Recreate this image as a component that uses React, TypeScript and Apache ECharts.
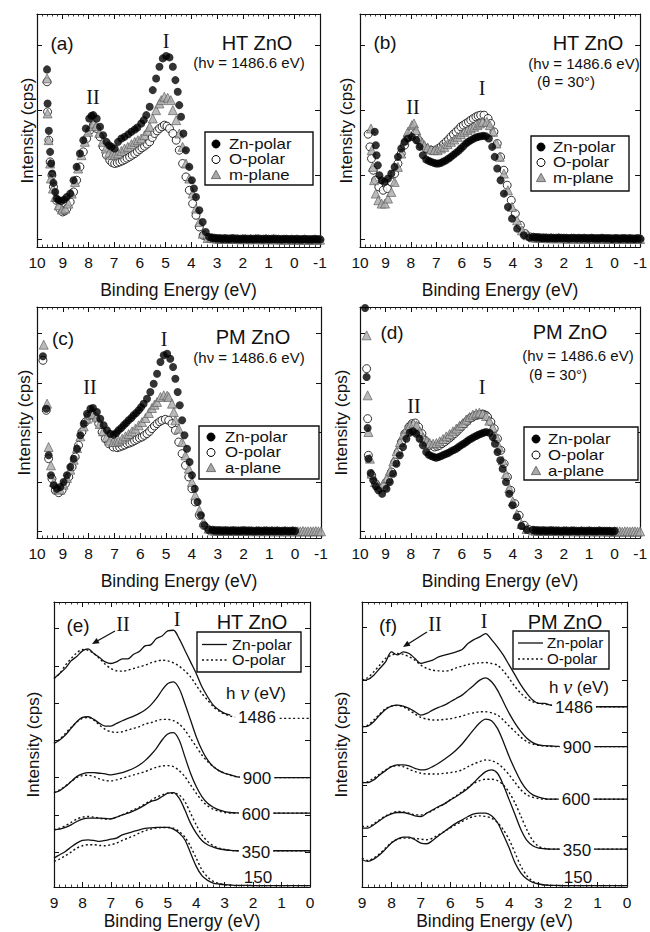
import React, { useEffect, useRef } from "react";
import * as echarts from "echarts";

const SANS = "'Liberation Sans', Arial, Helvetica, sans-serif";
const SERIF = "'Liberation Serif', 'Times New Roman', Times, serif";

// ---------- shared energy grids ----------
const energyTail = [3.2,3.1,3.0,2.9,2.8,2.7,2.6,2.5,2.4,2.3,2.2,2.1,2.0,1.9,1.8,1.7,1.6,1.5,1.4,1.3,1.2,1.1,1.0,0.9,0.8,0.7,0.6,0.5,0.4,0.3,0.2,0.1,0.0,-0.1,-0.2,-0.3,-0.4,-0.5,-0.6,-0.7,-0.8,-0.9,-1.0];
const energyLine = [9.0,8.8,8.6,8.4,8.2,8.0,7.8,7.6,7.4,7.2,7.0,6.8,6.6,6.4,6.2,6.0,5.8,5.6,5.4,5.2,5.0,4.8,4.6,4.4,4.2,4.0,3.8,3.6,3.4,3.2,3.0,2.8,2.6,2.4,2.2,2.0,1.8,1.6,1.4,1.2,1.0,0.8,0.6,0.4,0.2,0.0];

// ---------- panel (a) HT ZnO ----------
const aZn = [[9.61,5.32],[9.59,4.30],[9.54,3.48],[9.49,2.85],[9.45,2.5],[9.41,2.2],[9.36,1.92],[9.29,1.65],[9.23,1.45],[9.16,1.40],[9.05,1.38],[8.95,1.42],[8.84,1.5],[8.71,1.6],[8.58,2.0],[8.46,2.4],[8.33,2.8],[8.2,3.2],[8.1,3.55],[7.97,3.85],[7.88,3.93],[7.81,3.95],[7.68,3.85],[7.55,3.6],[7.43,3.35],[7.3,3.15],[7.2,3.05],[7.1,3.0],[6.98,2.95],[6.85,3.15],[6.72,3.25],[6.6,3.3],[6.45,3.38],[6.33,3.45],[6.2,3.52],[6.1,3.58],[5.95,3.7],[5.85,3.8],[5.75,3.95],[5.62,4.2],[5.5,4.7],[5.37,5.05],[5.24,5.4],[5.11,5.65],[4.98,5.72],[4.85,5.68],[4.72,5.4],[4.62,5.0],[4.53,4.65],[4.47,4.25],[4.4,3.9],[4.31,3.4],[4.21,2.9],[4.08,2.4],[3.98,2.0],[3.9,1.75],[3.82,1.5],[3.69,1.1],[3.56,0.75],[3.44,0.45],[3.31,0.3]];
const aO = [[9.61,4.95],[9.59,4.05],[9.54,3.2],[9.49,2.55],[9.42,2.15],[9.36,1.8],[9.25,1.4],[9.12,1.15],[9.0,1.05],[8.92,1.08],[8.84,1.15],[8.71,1.35],[8.58,1.65],[8.46,2.0],[8.33,2.4],[8.2,2.85],[8.07,3.25],[7.94,3.5],[7.81,3.65],[7.68,3.55],[7.55,3.3],[7.43,3.0],[7.3,2.75],[7.17,2.6],[7.08,2.53],[6.98,2.5],[6.88,2.52],[6.78,2.55],[6.68,2.58],[6.59,2.62],[6.5,2.66],[6.4,2.7],[6.3,2.75],[6.2,2.8],[6.1,2.86],[6.01,2.92],[5.92,2.97],[5.82,3.02],[5.72,3.08],[5.62,3.15],[5.52,3.28],[5.43,3.4],[5.33,3.48],[5.24,3.55],[5.14,3.6],[5.05,3.65],[4.95,3.62],[4.85,3.55],[4.72,3.4],[4.59,3.2],[4.47,2.9],[4.34,2.5],[4.21,2.1],[4.08,1.7],[3.95,1.3],[3.82,0.95],[3.69,0.6],[3.54,0.35],[3.37,0.28]];
const aM = [[9.61,5.05],[9.59,4.0],[9.55,3.2],[9.49,2.5],[9.46,2.05],[9.38,1.75],[9.29,1.5],[9.16,1.25],[9.03,1.12],[8.9,1.15],[8.78,1.3],[8.65,1.6],[8.52,1.95],[8.4,2.35],[8.27,2.75],[8.14,3.15],[8.01,3.45],[7.88,3.62],[7.81,3.7],[7.7,3.62],[7.58,3.42],[7.45,3.15],[7.33,2.95],[7.2,2.82],[7.08,2.76],[6.98,2.75],[6.85,2.8],[6.72,2.88],[6.6,2.95],[6.47,3.0],[6.33,3.08],[6.2,3.15],[6.08,3.2],[5.95,3.25],[5.82,3.35],[5.7,3.48],[5.62,3.6],[5.5,3.85],[5.37,4.1],[5.24,4.3],[5.17,4.4],[5.05,4.5],[4.92,4.47],[4.8,4.4],[4.72,4.1],[4.59,3.8],[4.47,3.4],[4.34,3.0],[4.21,2.5],[4.08,2.05],[3.95,1.6],[3.82,1.15],[3.69,0.75],[3.56,0.4],[3.37,0.27]];
const aTail = [0.27,0.26,0.25,0.25,0.24,0.25,0.24,0.24,0.25,0.24,0.24,0.23,0.24,0.24,0.23,0.24,0.23,0.24,0.24,0.23,0.23,0.24,0.23,0.23,0.24,0.23,0.23,0.22,0.23,0.23,0.22,0.23,0.22,0.23,0.22,0.22,0.23,0.22,0.22,0.22,0.23,0.22,0.22];

// ---------- panel (b) HT ZnO, theta = 30 ----------
const bZn = [[9.42,3.45],[9.38,3.05],[9.35,2.75],[9.3,2.45],[9.24,2.15],[9.15,2.0],[9.03,1.95],[8.9,2.05],[8.77,2.2],[8.64,2.4],[8.51,2.7],[8.38,2.95],[8.25,3.15],[8.12,3.25],[7.96,3.3],[7.79,3.2],[7.66,3.0],[7.53,2.75],[7.4,2.62],[7.3,2.58],[7.21,2.55],[7.1,2.52],[7.01,2.5],[6.92,2.5],[6.82,2.52],[6.72,2.56],[6.62,2.6],[6.52,2.65],[6.43,2.7],[6.33,2.76],[6.23,2.82],[6.13,2.88],[6.04,2.95],[5.94,3.02],[5.84,3.1],[5.75,3.15],[5.65,3.2],[5.55,3.24],[5.45,3.28],[5.36,3.3],[5.26,3.32],[5.16,3.33],[5.06,3.32],[4.94,3.25],[4.81,3.0],[4.71,2.7],[4.61,2.35],[4.48,2.0],[4.35,1.6],[4.19,1.2],[4.03,0.85],[3.83,0.55],[3.57,0.35],[3.35,0.28]];
const bO = [[9.68,3.38],[9.61,3.0],[9.55,2.65],[9.48,2.3],[9.39,2.0],[9.26,1.8],[9.09,1.7],[8.92,1.75],[8.77,1.95],[8.64,2.2],[8.51,2.5],[8.38,2.8],[8.25,3.05],[8.12,3.3],[7.96,3.45],[7.83,3.4],[7.7,3.2],[7.57,3.05],[7.4,2.95],[7.21,2.9],[7.01,2.9],[6.92,2.95],[6.82,3.0],[6.72,3.08],[6.62,3.15],[6.52,3.22],[6.43,3.3],[6.33,3.38],[6.23,3.45],[6.13,3.52],[6.04,3.6],[5.94,3.65],[5.84,3.7],[5.74,3.75],[5.65,3.8],[5.55,3.85],[5.45,3.9],[5.36,3.93],[5.26,3.95],[5.13,3.95],[4.97,3.85],[4.87,3.7],[4.74,3.45],[4.61,3.1],[4.48,2.7],[4.35,2.3],[4.22,1.85],[4.06,1.4],[3.9,1.0],[3.7,0.65],[3.51,0.4],[3.31,0.3]];
const bM = [[9.57,3.55],[9.54,2.9],[9.5,2.4],[9.45,2.0],[9.38,1.6],[9.28,1.4],[9.15,1.3],[9.02,1.3],[8.9,1.45],[8.77,1.65],[8.64,1.95],[8.51,2.4],[8.38,2.8],[8.25,3.2],[8.12,3.45],[7.96,3.65],[7.88,3.7],[7.79,3.5],[7.66,3.25],[7.55,3.12],[7.47,3.05],[7.34,2.98],[7.21,2.92],[7.08,2.9],[6.95,2.9],[6.82,2.95],[6.69,3.0],[6.56,3.08],[6.43,3.15],[6.3,3.22],[6.17,3.3],[6.04,3.38],[5.91,3.45],[5.78,3.5],[5.65,3.55],[5.52,3.6],[5.39,3.65],[5.29,3.7],[5.19,3.75],[5.02,3.75],[4.9,3.65],[4.77,3.45],[4.64,3.1],[4.51,2.7],[4.35,2.2],[4.19,1.7],[4.03,1.2],[3.83,0.8],[3.64,0.5],[3.42,0.35]];
const bTail = [0.29,0.28,0.28,0.27,0.27,0.27,0.26,0.27,0.26,0.26,0.27,0.26,0.26,0.26,0.25,0.26,0.26,0.25,0.26,0.25,0.26,0.25,0.25,0.26,0.25,0.25,0.25,0.26,0.25,0.25,0.25,0.24,0.25,0.25,0.24,0.25,0.25,0.24,0.25,0.24,0.24,0.25,0.24];

// ---------- panel (c) PM ZnO ----------
const cZn = [[9.77,5.45],[9.64,3.88],[9.55,2.48],[9.46,1.88],[9.35,1.58],[9.23,1.48],[9.1,1.53],[8.97,1.68],[8.84,1.88],[8.71,2.13],[8.58,2.38],[8.45,2.68],[8.32,3.08],[8.19,3.43],[8.06,3.73],[7.93,3.88],[7.83,3.9],[7.68,3.78],[7.55,3.58],[7.42,3.38],[7.29,3.23],[7.16,3.13],[7.03,3.1],[6.93,3.15],[6.84,3.23],[6.74,3.3],[6.64,3.38],[6.55,3.45],[6.45,3.53],[6.35,3.6],[6.26,3.68],[6.16,3.75],[6.06,3.83],[5.97,3.92],[5.87,4.03],[5.74,4.18],[5.61,4.38],[5.48,4.63],[5.35,4.93],[5.22,5.28],[5.09,5.48],[4.96,5.53],[4.84,5.38],[4.73,5.13],[4.64,4.78],[4.55,4.38],[4.47,3.98],[4.38,3.53],[4.29,3.08],[4.19,2.68],[4.09,2.28],[4.0,1.88],[3.89,1.48],[3.78,1.08],[3.65,0.68],[3.52,0.38],[3.35,0.25]];
const cO = [[9.77,5.33],[9.64,3.83],[9.55,2.38],[9.42,1.78],[9.29,1.43],[9.16,1.36],[9.03,1.43],[8.9,1.63],[8.77,1.83],[8.64,2.13],[8.52,2.43],[8.39,2.78],[8.26,3.18],[8.13,3.48],[8.0,3.66],[7.87,3.71],[7.74,3.63],[7.61,3.43],[7.48,3.18],[7.35,2.98],[7.22,2.83],[7.05,2.73],[6.9,2.71],[6.8,2.73],[6.7,2.76],[6.6,2.79],[6.51,2.83],[6.41,2.85],[6.32,2.88],[6.22,2.92],[6.13,2.96],[6.03,3.0],[5.93,3.03],[5.84,3.08],[5.74,3.13],[5.64,3.2],[5.55,3.28],[5.45,3.36],[5.35,3.43],[5.25,3.49],[5.16,3.53],[5.03,3.56],[4.9,3.53],[4.77,3.43],[4.64,3.23],[4.51,2.88],[4.38,2.53],[4.25,2.18],[4.12,1.83],[4.0,1.48],[3.87,1.08],[3.71,0.68],[3.55,0.38],[3.35,0.25]];
const cA = [[9.74,5.8],[9.61,4.03],[9.55,2.73],[9.46,2.18],[9.35,1.68],[9.23,1.48],[9.1,1.45],[8.97,1.6],[8.84,1.8],[8.71,2.05],[8.58,2.35],[8.45,2.7],[8.32,3.05],[8.19,3.35],[8.06,3.58],[7.93,3.7],[7.83,3.72],[7.7,3.62],[7.57,3.42],[7.44,3.2],[7.31,3.02],[7.18,2.92],[7.05,2.88],[6.95,2.88],[6.84,2.92],[6.7,2.98],[6.57,3.05],[6.45,3.12],[6.32,3.2],[6.19,3.28],[6.06,3.38],[5.93,3.48],[5.8,3.6],[5.67,3.75],[5.55,3.9],[5.45,4.0],[5.35,4.08],[5.22,4.23],[5.09,4.28],[4.96,4.27],[4.9,4.23],[4.77,4.03],[4.7,3.78],[4.64,3.53],[4.51,3.28],[4.38,2.88],[4.25,2.48],[4.12,2.08],[4.0,1.68],[3.87,1.28],[3.71,0.83],[3.55,0.48],[3.35,0.28]];
const cTail = [0.23,0.22,0.22,0.22,0.21,0.22,0.21,0.21,0.22,0.21,0.21,0.21,0.22,0.21,0.21,0.21,0.2,0.21,0.21,0.2,0.21,0.21,0.2,0.21,0.2,0.21,0.2,0.2,0.21,0.2,0.2,0.21,0.2,0.2,0.2,0.21,0.2,0.2,0.2,0.2,0.21,0.2,0.2];

// ---------- panel (d) PM ZnO, theta = 30 ----------
const dZn = [[9.8,6.9],[9.74,4.83],[9.7,3.3],[9.67,2.38],[9.58,1.95],[9.48,1.73],[9.38,1.55],[9.28,1.43],[9.13,1.33],[8.96,1.48],[8.83,1.68],[8.7,1.93],[8.57,2.23],[8.44,2.48],[8.31,2.73],[8.18,2.98],[8.05,3.16],[7.92,3.2],[7.79,3.13],[7.66,2.98],[7.53,2.78],[7.4,2.58],[7.3,2.5],[7.2,2.46],[7.1,2.43],[7.01,2.41],[6.91,2.43],[6.81,2.46],[6.71,2.5],[6.61,2.53],[6.52,2.56],[6.42,2.6],[6.32,2.64],[6.22,2.68],[6.13,2.73],[6.03,2.78],[5.93,2.83],[5.83,2.88],[5.74,2.93],[5.64,2.98],[5.54,3.02],[5.44,3.06],[5.35,3.1],[5.25,3.13],[5.15,3.16],[5.05,3.18],[4.92,3.16],[4.79,3.03],[4.7,2.83],[4.6,2.58],[4.49,2.33],[4.4,2.08],[4.27,1.68],[4.14,1.33],[4.01,0.98],[3.84,0.63],[3.66,0.36],[3.45,0.25]];
const dO = [[9.74,5.08],[9.7,3.58],[9.67,2.48],[9.54,1.88],[9.39,1.63],[9.22,1.5],[9.05,1.53],[8.89,1.73],[8.76,1.98],[8.63,2.28],[8.5,2.58],[8.37,2.88],[8.24,3.13],[8.08,3.33],[7.96,3.43],[7.83,3.45],[7.7,3.33],[7.57,3.13],[7.44,2.93],[7.27,2.78],[7.07,2.73],[6.97,2.75],[6.88,2.78],[6.78,2.83],[6.68,2.88],[6.58,2.94],[6.48,3.0],[6.39,3.06],[6.29,3.13],[6.19,3.2],[6.09,3.28],[6.0,3.35],[5.9,3.43],[5.8,3.5],[5.7,3.58],[5.6,3.62],[5.51,3.66],[5.41,3.68],[5.31,3.7],[5.22,3.71],[5.14,3.71],[5.05,3.68],[4.99,3.63],[4.86,3.48],[4.73,3.28],[4.6,2.98],[4.47,2.63],[4.34,2.23],[4.21,1.83],[4.08,1.43],[3.92,1.03],[3.75,0.68],[3.55,0.38],[3.36,0.25]];
const dA = [[9.74,6.08],[9.7,4.28],[9.67,3.18],[9.61,2.38],[9.54,1.93],[9.41,1.68],[9.28,1.58],[9.09,1.63],[8.95,1.8],[8.82,2.02],[8.69,2.3],[8.56,2.6],[8.43,2.88],[8.3,3.1],[8.17,3.28],[8.04,3.38],[7.9,3.43],[7.78,3.38],[7.65,3.2],[7.52,3.02],[7.39,2.9],[7.26,2.85],[7.13,2.83],[7.0,2.85],[6.87,2.9],[6.74,2.97],[6.61,3.05],[6.48,3.12],[6.35,3.2],[6.22,3.28],[6.09,3.37],[5.96,3.45],[5.83,3.55],[5.7,3.63],[5.57,3.7],[5.44,3.74],[5.31,3.76],[5.18,3.73],[5.05,3.66],[4.92,3.52],[4.79,3.32],[4.66,3.05],[4.53,2.72],[4.4,2.33],[4.27,1.92],[4.14,1.5],[4.0,1.1],[3.84,0.72],[3.66,0.42],[3.46,0.27]];
const dTail = [0.23,0.22,0.22,0.21,0.22,0.21,0.21,0.22,0.21,0.21,0.21,0.2,0.21,0.21,0.2,0.21,0.21,0.2,0.2,0.21,0.2,0.2,0.21,0.2,0.2,0.2,0.21,0.2,0.2,0.2,0.2,0.19,0.2,0.2,0.2,0.19,0.2,0.2,0.19,0.2,0.2,0.19,0.2];

// ---------- panel (e) HT ZnO, photon-energy series ----------
const eZn1486 = [6.27,6.42,6.58,6.8,6.93,7.1,7.16,7.02,6.9,6.77,6.72,6.77,6.86,6.86,7.0,7.08,7.25,7.28,7.47,7.55,7.7,7.72,7.47,7.12,6.77,6.42,6.02,5.72,5.47,5.32,5.22,5.17];
const eO1486 = [6.27,6.42,6.67,6.87,7.04,7.14,7.12,7.02,6.87,6.7,6.57,6.5,6.49,6.52,6.57,6.62,6.67,6.74,6.79,6.82,6.8,6.74,6.64,6.5,6.32,6.07,5.82,5.62,5.42,5.29,5.2,5.14,5.11,5.09,5.08,5.07,5.07,5.07,5.07,5.07,5.07,5.07,5.07,5.07,5.07,5.07];
const eZn900 = [4.32,4.42,4.57,4.77,4.97,5.1,5.12,5.04,4.92,4.84,4.84,4.92,5.0,5.07,5.14,5.22,5.32,5.47,5.67,5.92,6.12,6.17,5.97,5.52,5.02,4.52,4.12,3.82,3.62,3.5,3.42,3.37,3.32,3.3,3.3,3.29,3.29,3.29,3.29,3.29,3.29,3.29,3.29,3.29,3.29,3.29];
const eO900 = [4.32,4.44,4.62,4.8,4.96,5.07,5.1,5.02,4.87,4.74,4.67,4.65,4.67,4.72,4.77,4.82,4.9,4.94,5.0,5.04,5.04,5.0,4.9,4.72,4.47,4.22,3.97,3.77,3.62,3.5,3.42,3.36,3.32,3.3,3.3,3.29,3.29,3.29,3.29,3.29,3.29,3.29,3.29,3.29,3.29,3.29];
const eZn600 = [2.84,2.9,3.02,3.17,3.32,3.4,3.44,3.44,3.42,3.4,3.37,3.4,3.44,3.5,3.57,3.67,3.8,3.97,4.17,4.42,4.6,4.64,4.42,3.92,3.42,3.02,2.72,2.52,2.4,2.32,2.27,2.24,2.23,2.22,2.22,2.22,2.22,2.22,2.22,2.22,2.22,2.22,2.22,2.22,2.22,2.22];
const eO600 = [2.84,2.92,3.04,3.17,3.29,3.35,3.36,3.32,3.25,3.2,3.19,3.22,3.27,3.32,3.37,3.42,3.47,3.54,3.6,3.64,3.65,3.62,3.5,3.32,3.07,2.82,2.6,2.44,2.34,2.28,2.24,2.22,2.22,2.22,2.22,2.22,2.22,2.22,2.22,2.22,2.22,2.22,2.22,2.22,2.22,2.22];
const eZn350 = [1.72,1.74,1.79,1.87,1.97,2.04,2.07,2.07,2.07,2.06,2.05,2.1,2.17,2.22,2.29,2.37,2.47,2.57,2.62,2.72,2.82,2.84,2.67,2.32,1.92,1.62,1.4,1.27,1.2,1.15,1.12,1.1,1.09,1.09,1.09,1.09,1.09,1.09,1.09,1.09,1.09,1.09,1.09,1.09,1.09,1.09];
const eO350 = [1.72,1.77,1.84,1.94,2.04,2.1,2.12,2.1,2.07,2.04,2.05,2.1,2.17,2.24,2.32,2.4,2.5,2.6,2.7,2.77,2.82,2.82,2.77,2.57,2.22,1.87,1.57,1.37,1.24,1.17,1.13,1.1,1.09,1.09,1.09,1.09,1.09,1.09,1.09,1.09,1.09,1.09,1.09,1.09,1.09,1.09];
const eZn150 = [0.87,0.97,1.07,1.2,1.32,1.4,1.42,1.4,1.37,1.4,1.44,1.47,1.57,1.62,1.67,1.72,1.76,1.78,1.79,1.79,1.79,1.74,1.62,1.42,1.02,0.62,0.34,0.2,0.12,0.09,0.07,0.06,0.05,0.05,0.05,0.04,0.04,0.04,0.04,0.04,0.04,0.04,0.04,0.04,0.04,0.04];
const eO150 = [0.77,0.84,0.94,1.05,1.17,1.24,1.27,1.27,1.25,1.24,1.27,1.32,1.4,1.47,1.54,1.62,1.69,1.74,1.77,1.79,1.79,1.77,1.67,1.5,1.22,0.87,0.52,0.3,0.17,0.1,0.07,0.05,0.04,0.04,0.04,0.04,0.04,0.04,0.04,0.04,0.04,0.04,0.04,0.04,0.04,0.04];

// ---------- panel (f) PM ZnO, photon-energy series ----------
const fZn1486 = [6.22,6.24,6.37,6.57,6.77,7.07,6.98,7.07,7.02,6.87,6.72,6.77,6.82,6.92,6.97,7.02,7.07,7.14,7.32,7.44,7.52,7.62,7.44,7.22,6.97,6.67,6.37,6.07,5.82,5.62,5.52,5.52,5.47,5.45,5.44,5.43,5.42,5.42,5.42,5.42,5.42,5.42,5.42,5.42,5.42,5.42];
const fO1486 = [6.22,6.3,6.47,6.67,6.87,6.97,7.02,7.0,6.92,6.82,6.67,6.57,6.52,6.5,6.49,6.52,6.59,6.64,6.69,6.72,6.74,6.75,6.72,6.67,6.5,6.27,6.02,5.82,5.67,5.57,5.52,5.5,5.47,5.45,5.44,5.43,5.42,5.42,5.42,5.42,5.42,5.42,5.42,5.42,5.42,5.42];
const fZn900 = [4.82,4.84,4.97,5.17,5.34,5.44,5.47,5.44,5.37,5.27,5.17,5.22,5.32,5.4,5.47,5.57,5.67,5.77,5.92,6.07,6.22,6.29,6.17,5.92,5.57,5.22,4.92,4.67,4.47,4.34,4.27,4.25,4.24,4.23,4.22,4.22,4.22,4.22,4.22,4.22,4.22,4.22,4.22,4.22,4.22,4.22];
const fO900 = [4.82,4.87,5.02,5.2,5.36,5.44,5.46,5.42,5.32,5.2,5.1,5.05,5.02,5.02,5.04,5.06,5.1,5.14,5.2,5.24,5.27,5.27,5.24,5.17,5.02,4.84,4.67,4.5,4.37,4.3,4.26,4.24,4.23,4.22,4.22,4.22,4.22,4.22,4.22,4.22,4.22,4.22,4.22,4.22,4.22,4.22];
const fZn600 = [3.14,3.14,3.22,3.37,3.5,3.62,3.67,3.67,3.64,3.57,3.52,3.54,3.62,3.72,3.84,3.97,4.12,4.3,4.52,4.74,4.94,5.05,5.0,4.77,4.37,3.92,3.52,3.17,2.92,2.77,2.7,2.66,2.64,2.64,2.64,2.64,2.64,2.64,2.64,2.64,2.64,2.64,2.64,2.64,2.64,2.64];
const fO600 = [3.14,3.17,3.27,3.4,3.52,3.62,3.65,3.62,3.54,3.47,3.42,3.4,3.4,3.4,3.42,3.44,3.47,3.52,3.62,3.7,3.77,3.82,3.8,3.72,3.57,3.37,3.14,2.92,2.77,2.7,2.66,2.64,2.64,2.64,2.64,2.64,2.64,2.64,2.64,2.64,2.64,2.64,2.64,2.64,2.64,2.64];
const fZn350 = [1.77,1.77,1.87,2.0,2.12,2.2,2.24,2.24,2.2,2.14,2.12,2.22,2.32,2.42,2.5,2.62,2.72,2.84,2.97,3.14,3.32,3.47,3.52,3.42,3.07,2.62,2.17,1.72,1.4,1.24,1.17,1.15,1.14,1.14,1.14,1.14,1.14,1.14,1.14,1.14,1.14,1.14,1.14,1.14,1.14,1.14];
const fO350 = [1.82,1.82,1.9,2.02,2.14,2.22,2.27,2.26,2.22,2.17,2.17,2.22,2.3,2.4,2.5,2.62,2.74,2.87,3.0,3.12,3.2,3.24,3.24,3.2,3.07,2.84,2.52,2.12,1.72,1.4,1.22,1.16,1.14,1.14,1.14,1.14,1.14,1.14,1.14,1.14,1.14,1.14,1.14,1.14,1.14,1.14];
const fZn150 = [0.82,0.77,0.84,0.97,1.14,1.32,1.44,1.5,1.5,1.42,1.32,1.3,1.4,1.54,1.67,1.8,1.92,2.02,2.12,2.2,2.22,2.22,2.14,1.94,1.57,1.17,0.72,0.42,0.24,0.14,0.09,0.06,0.05,0.05,0.04,0.04,0.04,0.04,0.04,0.04,0.04,0.04,0.04,0.04,0.04,0.04];
const fO150 = [0.87,0.8,0.87,1.0,1.17,1.34,1.44,1.47,1.47,1.46,1.44,1.42,1.47,1.57,1.67,1.78,1.88,1.97,2.06,2.12,2.14,2.12,2.07,1.94,1.72,1.42,1.02,0.62,0.34,0.17,0.1,0.06,0.05,0.04,0.04,0.04,0.04,0.04,0.04,0.04,0.04,0.04,0.04,0.04,0.04,0.04];

// tick values (arbitrary intensity units) and labels
const yTicksAB = [0.22, 2.16, 4.1, 6.05];
const yTicksCD = [0.2, 1.67, 3.16, 4.64, 6.13];
const yTicksE = [1.05, 2.17, 3.29, 4.41, 5.52, 6.64, 7.77];
const yTicksF = [1.52, 3.07, 4.64, 6.22, 7.82];
const photonLabels = ["1486", "900", "600", "350", "150"];

// ---------- layout (pixels) ----------
const panels = [
  { left: 37, top: 14, width: 283, height: 233, xMin: -1, xMax: 10, yMax: 6.98, yTicks: yTicksAB, xGap: 34, yGap: 1 },
  { left: 360, top: 14, width: 282, height: 233, xMin: -1, xMax: 10, yMax: 6.98, yTicks: yTicksAB, xGap: 34, yGap: 5 },
  { left: 37, top: 307, width: 284, height: 231, xMin: -1, xMax: 10, yMax: 6.93, yTicks: yTicksCD, xGap: 34, yGap: 4 },
  { left: 360, top: 307, width: 282, height: 231, xMin: -1, xMax: 10, yMax: 6.93, yTicks: yTicksCD, xGap: 34, yGap: 10 },
  { left: 54, top: 602, width: 256, height: 285, xMin: 0, xMax: 9, yMax: 8.57, yTicks: yTicksE, xGap: 25, yGap: 12 },
  { left: 362, top: 602, width: 265, height: 285, xMin: 0, xMax: 9, yMax: 8.57, yTicks: yTicksF, xGap: 25, yGap: 12 },
];

const withTail = (main: number[][], tail: number[], n: number) =>
  main.concat(energyTail.slice(0, n).map((e, i) => [e, tail[i]]));
const zipLine = (vals: number[]) => vals.map((v, i) => [energyLine[i], v]);

function buildOption() {
  const grid: any[] = [];
  const xAxis: any[] = [];
  const yAxis: any[] = [];
  panels.forEach((p, gi) => {
    grid.push({ left: p.left, top: p.top, width: p.width, height: p.height, containLabel: false });
    const xBase = {
      gridIndex: gi, type: "value", min: p.xMin, max: p.xMax, interval: 1, inverse: true,
      axisLine: { show: true, onZero: false, lineStyle: { color: "#111", width: 1.2 } },
      axisTick: { show: true, inside: true, length: 5, lineStyle: { color: "#111", width: 1 } },
      minorTick: { show: true, splitNumber: 5, length: 2.5, lineStyle: { color: "#111", width: 0.8 } },
      splitLine: { show: false }, minorSplitLine: { show: false },
    };
    xAxis.push({
      ...xBase, position: "bottom",
      axisLabel: { show: true, fontSize: 15.5, color: "#111", margin: 7, fontFamily: SANS, showMinLabel: true, showMaxLabel: true },
      name: "Binding Energy (eV)", nameLocation: "middle", nameGap: p.xGap,
      nameTextStyle: { fontSize: 17.5, color: "#111", fontFamily: SANS },
    });
    xAxis.push({ ...xBase, position: "top", axisLabel: { show: false } });
    const yBase = {
      gridIndex: gi, type: "value", min: 0, max: p.yMax,
      axisLine: { show: true, onZero: false, lineStyle: { color: "#111", width: 1.2 } },
      axisTick: { show: true, inside: true, length: 5, customValues: p.yTicks, lineStyle: { color: "#111", width: 1 } },
      axisLabel: { show: false, customValues: p.yTicks },
      splitLine: { show: false },
    };
    yAxis.push({
      ...yBase, position: "left",
      name: "Intensity (cps)", nameLocation: "middle", nameGap: p.yGap,
      nameTextStyle: { fontSize: 17, color: "#111", fontFamily: SANS },
    });
    yAxis.push({ ...yBase, position: "right" });
  });

  const series: any[] = [];
  const scat = (gi: number, data: number[][], kind: string) => {
    const base: any = { type: "scatter", xAxisIndex: gi * 2, yAxisIndex: gi * 2, data, clip: false, silent: true };
    if (kind === "zn") return { ...base, name: "Zn-polar", symbol: "circle", symbolSize: 8, itemStyle: { color: "#000" } };
    if (kind === "o") return { ...base, name: "O-polar", symbol: "circle", symbolSize: 8, itemStyle: { color: "#fff", borderColor: "#000", borderWidth: 1 } };
    return { ...base, name: kind, symbol: "triangle", symbolSize: 9, itemStyle: { color: "#a9a9a9", borderColor: "#555", borderWidth: 0.8 } };
  };
  const scatterSets = [
    { gi: 0, zn: withTail(aZn, aTail, 43), o: withTail(aO, aTail, 43), t: withTail(aM, aTail, 43), tn: "m-plane" },
    { gi: 1, zn: withTail(bZn, bTail, 43), o: withTail(bO, bTail, 43), t: withTail(bM, bTail, 43), tn: "m-plane" },
    { gi: 2, zn: withTail(cZn, cTail, 33), o: withTail(cO, cTail, 33), t: withTail(cA, cTail, 43), tn: "a-plane" },
    { gi: 3, zn: withTail(dZn, dTail, 33), o: withTail(dO, dTail, 33), t: withTail(dA, dTail, 43), tn: "a-plane" },
  ];
  scatterSets.forEach((s) => {
    series.push(scat(s.gi, s.o, "o"));
    series.push(scat(s.gi, s.t, s.tn));
    series.push(scat(s.gi, s.zn, "zn"));
  });

  const lineSets = [
    { gi: 4, zn: [eZn1486, eZn900, eZn600, eZn350, eZn150], o: [eO1486, eO900, eO600, eO350, eO150] },
    { gi: 5, zn: [fZn1486, fZn900, fZn600, fZn350, fZn150], o: [fO1486, fO900, fO600, fO350, fO150] },
  ];
  lineSets.forEach((s) => {
    s.zn.forEach((vals, k) => {
      series.push({
        type: "line", name: "O-polar " + photonLabels[k], xAxisIndex: s.gi * 2, yAxisIndex: s.gi * 2,
        data: zipLine(s.o[k]), showSymbol: false, symbol: "none", smooth: 0.3, silent: true,
        lineStyle: { color: "#111", width: 1.4, type: [2, 2.5] },
      });
      series.push({
        type: "line", name: "Zn-polar " + photonLabels[k], xAxisIndex: s.gi * 2, yAxisIndex: s.gi * 2,
        data: zipLine(vals), showSymbol: false, symbol: "none", smooth: 0.3, silent: true,
        lineStyle: { color: "#111", width: 1.3, type: "solid" },
      });
    });
  });

  // ---------- annotations ----------
  const g: any[] = [];
  const T = (x: number, y: number, text: string, size: number, family = SANS, extra: any = {}) =>
    g.push({
      type: "text", x, y, z: 100, silent: true,
      style: { text, fill: "#111", fontSize: size, fontFamily: family, align: "center", verticalAlign: "middle", textAlign: "center", textVerticalAlign: "middle", ...extra },
    });
  const L = (x: number, y: number, text: string, sx: number) =>
    g.push({
      type: "text", x, y, z: 100, silent: true, scaleX: sx,
      style: { text, fill: "#111", fontSize: 14, lineHeight: 14, fontFamily: SANS, align: "left", verticalAlign: "middle", textAlign: "left", textVerticalAlign: "middle" },
    });
  const box = (x: number, y: number, w: number, h: number) =>
    g.push({ type: "rect", z: 99, silent: true, shape: { x, y, width: w, height: h }, style: { fill: "#fff", stroke: "#111", lineWidth: 1.4 } });
  const dot = (cx: number, cy: number, open: boolean) =>
    g.push({ type: "circle", z: 100, silent: true, shape: { cx, cy, r: 4 }, style: { fill: open ? "#fff" : "#000", stroke: "#000", lineWidth: 1 } });
  const tri = (cx: number, cy: number) =>
    g.push({ type: "polygon", z: 100, silent: true, shape: { points: [[cx, cy - 4.8], [cx + 4.6, cy + 3.6], [cx - 4.6, cy + 3.6]] }, style: { fill: "#a9a9a9", stroke: "#555", lineWidth: 0.8 } });
  const seg = (x1: number, y1: number, x2: number, y2: number, dashed: boolean) =>
    g.push({ type: "line", z: 100, silent: true, shape: { x1, y1, x2, y2 }, style: { stroke: "#111", lineWidth: dashed ? 1.4 : 1.3, lineDash: dashed ? [2, 2.5] : null } });

  const scatLegend = (x: number, y: number, w: number, h: number, mx: number, tx: number, rows: number[], third: string) => {
    box(x, y, w, h);
    dot(mx, rows[0], false); L(tx, rows[0], "Zn-polar", 1.2);
    dot(mx, rows[1], true); L(tx, rows[1], "O-polar", 1.2);
    tri(mx, rows[2]); L(tx, rows[2], third, 1.2);
  };
  const lineLegend = (x: number, y: number, w: number, h: number, x1: number, x2: number, tx: number, rows: number[], sx: number) => {
    box(x, y, w, h);
    seg(x1, rows[0], x2, rows[0], false); L(tx, rows[0], "Zn-polar", sx);
    seg(x1, rows[1], x2, rows[1], true); L(tx, rows[1], "O-polar", sx);
  };

  // (a)
  T(62, 43, "(a)", 19); T(166, 41, "I", 20, SERIF); T(93, 97, "II", 20, SERIF);
  T(257, 43, "HT ZnO", 20); T(249, 62, "(hν = 1486.6 eV)", 15);
  scatLegend(205, 132, 108, 53, 216, 229, [144, 159.5, 175], "m-plane");
  // (b)
  T(385, 42, "(b)", 19); T(482, 88, "I", 20, SERIF); T(413, 107, "II", 20, SERIF);
  T(588, 43, "HT ZnO", 20); T(584, 63, "(hν = 1486.6 eV)", 15); T(566, 81, "(θ = 30°)", 15);
  scatLegend(531, 136, 98, 55, 541, 553, [147, 162.5, 178], "m-plane");
  // (c)
  T(63, 338, "(c)", 19); T(164, 339, "I", 20, SERIF); T(90, 387, "II", 20, SERIF);
  T(253, 337, "PM ZnO", 20); T(249, 357, "(hν = 1486.6 eV)", 15);
  scatLegend(199, 426, 120, 53, 211, 225, [437, 452.5, 468], "a-plane");
  // (d)
  T(392, 332, "(d)", 19); T(482, 387, "I", 20, SERIF); T(414, 406, "II", 20, SERIF);
  T(570, 332, "PM ZnO", 20); T(578, 355, "(hν = 1486.6 eV)", 15); T(558, 374, "(θ = 30°)", 15);
  scatLegend(524, 427, 114, 53, 536, 548, [439, 455, 471], "a-plane");
  // (e)
  T(78, 625, "(e)", 19); T(123, 624, "II", 20, SERIF); T(177, 619, "I", 20, SERIF);
  T(252, 622, "HT ZnO", 20);
  lineLegend(197, 632, 104, 40, 202, 227, 232, [644.5, 660], 1.15);
  // (f)
  T(388, 625, "(f)", 19); T(435, 624, "II", 20, SERIF); T(484, 621, "I", 20, SERIF);
  T(565, 622, "PM ZnO", 20);
  lineLegend(513, 631, 96, 38, 518, 543, 547, [643, 659], 1.08);

  // h-nu headers and photon-energy labels
  const hv = (x: number, y: number) =>
    g.push({
      type: "text", x, y, z: 100, silent: true,
      style: {
        text: "{a|h }{b|ν}{a| (eV)}", align: "center", verticalAlign: "middle", textAlign: "center", textVerticalAlign: "middle",
        rich: { a: { fontSize: 17, fontFamily: SANS, fill: "#111", color: "#111" }, b: { fontSize: 20, fontFamily: SERIF, fontStyle: "italic", fill: "#111", color: "#111" } },
      },
    });
  hv(256, 693); hv(579, 687);
  const eLab: number[][] = [[257, 717], [257, 778], [256, 814], [256, 852], [258, 877]];
  const fLab: number[][] = [[574, 707], [577, 747], [576, 799], [577, 850], [578, 877]];
  photonLabels.forEach((t, k) => {
    T(eLab[k][0], eLab[k][1], t, 17, SANS, k < 4 ? { backgroundColor: "#fff", padding: [0, 3] } : {});
    T(fLab[k][0], fLab[k][1], t, 17, SANS, k < 4 ? { backgroundColor: "#fff", padding: [0, 3] } : {});
  });

  // arrows pointing to peak II
  seg(115, 631, 95, 642.3, false);
  g.push({ type: "polygon", z: 100, silent: true, shape: { points: [[92, 644], [99.6, 643.2], [96.6, 638]] }, style: { fill: "#111" } });
  seg(427, 632, 406, 645.2, false);
  g.push({ type: "polygon", z: 100, silent: true, shape: { points: [[403, 647], [410.5, 645.8], [407.3, 640.8]] }, style: { fill: "#111" } });

  return {
    animation: false,
    backgroundColor: "#fff",
    textStyle: { fontFamily: SANS },
    grid, xAxis, yAxis, series, graphic: g,
  };
}

export default function App() {
  const ref = useRef<HTMLDivElement>(null);
  useEffect(() => {
    if (!ref.current) return;
    const chart = echarts.init(ref.current, undefined, { renderer: "svg" });
    chart.setOption(buildOption() as any);
    return () => chart.dispose();
  }, []);
  return <div ref={ref} style={{ position: "absolute", left: 0, top: 0, width: 650, height: 932, background: "#fff" }} />;
}
